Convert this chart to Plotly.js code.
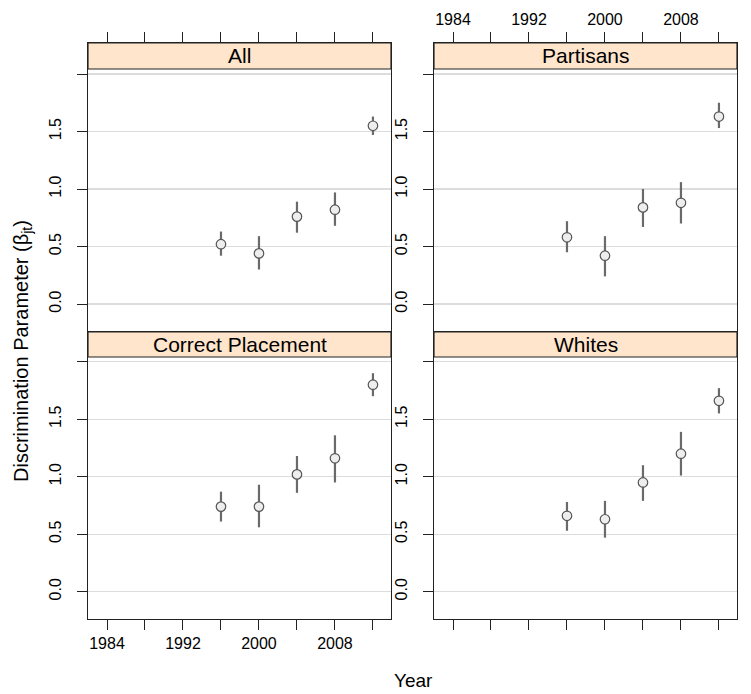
<!DOCTYPE html>
<html>
<head>
<meta charset="utf-8">
<script src="https://cdn.plot.ly/plotly-3.0.1.min.js"></script>
<style>
  html, body { margin: 0; padding: 0; background: #ffffff; }
  #chart { width: 751px; height: 694px; }
</style>
</head>
<body>
<div id="chart"></div>
<script>
// Election years and panel groups
const years = [1996, 2000, 2004, 2008, 2012];
const panelNames = ["All", "Partisans", "Correct Placement", "Whites"];

// Posterior estimates of the discrimination parameter with interval bounds
const allEst = [0.52, 0.44, 0.76, 0.82, 1.55];
const allLo  = [0.42, 0.30, 0.62, 0.68, 1.47];
const allHi  = [0.63, 0.59, 0.89, 0.97, 1.63];

const partisansEst = [0.58, 0.42, 0.84, 0.88, 1.63];
const partisansLo  = [0.45, 0.24, 0.67, 0.70, 1.53];
const partisansHi  = [0.72, 0.59, 1.00, 1.06, 1.75];

const correctEst = [0.74, 0.74, 1.02, 1.16, 1.80];
const correctLo  = [0.61, 0.56, 0.86, 0.95, 1.70];
const correctHi  = [0.87, 0.93, 1.18, 1.36, 1.90];

const whitesEst = [0.66, 0.63, 0.95, 1.20, 1.66];
const whitesLo  = [0.53, 0.47, 0.79, 1.01, 1.55];
const whitesHi  = [0.78, 0.79, 1.10, 1.39, 1.77];

// Axis ticks: labelled majors plus unlabelled in-between ticks
const xLabelVals = [1984, 1992, 2000, 2008];
const xLabelText = ["1984", "1992", "2000", "2008"];
const xMinorVals = [1988, 1996, 2004, 2012];
const yLabelVals = [0, 0.5, 1, 1.5];
const yLabelText = ["0.0", "0.5", "1.0", "1.5"];
const yMinorVals = [2];

const W = 751, H = 694;
const FONT = "Liberation Sans, Arial, Helvetica, sans-serif";
const px = v => v / W;
const py = v => 1 - v / H;

// Panel boxes in pixels: left, right, top (strip top), strip bottom, bottom
const panels = [
  { l: 88,  r: 391, t: 43,  s: 69,  b: 332, zero: 304.0, two: 74.0 },
  { l: 434, r: 737, t: 43,  s: 69,  b: 332, zero: 304.0, two: 74.0 },
  { l: 88,  r: 391, t: 332, s: 357, b: 619, zero: 591.7, two: 361.7 },
  { l: 434, r: 737, t: 332, s: 357, b: 619, zero: 591.7, two: 361.7 }
];
const series = [
  [allEst, allLo, allHi],
  [partisansEst, partisansLo, partisansHi],
  [correctEst, correctLo, correctHi],
  [whitesEst, whitesLo, whitesHi]
];

const xRange = [1982.0, 2013.9];
const AXIS_COLOR = "#222222";
const GRID_COLOR = "#dcdcdc";
const traces = [];
const layout = {
  width: W, height: H,
  margin: { l: 0, r: 0, t: 0, b: 0 },
  paper_bgcolor: "#ffffff",
  plot_bgcolor: "#ffffff",
  showlegend: false,
  font: { family: FONT, color: "#000000" },
  shapes: [],
  annotations: []
};

panels.forEach((p, i) => {
  const n = i === 0 ? "" : String(i + 1);
  const [est, lo, hi] = series[i];
  traces.push({
    type: "scatter",
    mode: "markers",
    x: years,
    y: est,
    xaxis: "x" + n,
    yaxis: "y" + n,
    error_y: {
      type: "data",
      symmetric: false,
      array: est.map((v, k) => hi[k] - v),
      arrayminus: est.map((v, k) => v - lo[k]),
      width: 0,
      thickness: 2.2,
      color: "#6a6a6a"
    },
    marker: {
      symbol: "circle",
      size: 9.5,
      color: "#eeeeee",
      line: { color: "#555555", width: 1.2 }
    },
    hoverinfo: "skip"
  });

  // vertical scale: 0 and 2 at fixed pixel rows
  const unit = (p.zero - p.two) / 2;
  const yLow = -(p.b - p.zero) / unit;
  const yHigh = 2 + (p.two - p.t) / unit;

  const top = i < 2;
  const showXLabels = (i === 1 || i === 2);

  layout["xaxis" + n] = {
    domain: [px(p.l), px(p.r)],
    anchor: "y" + n,
    side: top ? "top" : "bottom",
    range: xRange,
    tickmode: "array",
    tickvals: xLabelVals,
    ticktext: xLabelText,
    showticklabels: showXLabels,
    ticks: "outside",
    ticklen: 10,
    tickwidth: 1,
    tickcolor: AXIS_COLOR,
    tickfont: { family: FONT, size: 16, color: "#000000" },
    minor: {
      tickmode: "array",
      tickvals: xMinorVals,
      ticks: "outside",
      ticklen: 10,
      tickwidth: 1,
      tickcolor: AXIS_COLOR,
      showgrid: false
    },
    showline: true,
    mirror: true,
    linecolor: AXIS_COLOR,
    linewidth: 1.2,
    showgrid: false,
    zeroline: false,
    fixedrange: true
  };
  layout["yaxis" + n] = {
    domain: [py(p.b), py(p.t)],
    anchor: "x" + n,
    range: [yLow, yHigh],
    tickmode: "array",
    tickvals: yLabelVals,
    ticktext: yLabelText,
    tickangle: -90,
    ticks: "outside",
    ticklen: 10,
    tickwidth: 1,
    tickcolor: AXIS_COLOR,
    ticklabelstandoff: 9,
    tickfont: { family: FONT, size: 16, color: "#000000" },
    minor: {
      tickmode: "array",
      tickvals: yMinorVals,
      ticks: "outside",
      ticklen: 10,
      tickwidth: 1,
      tickcolor: AXIS_COLOR,
      showgrid: true,
      gridcolor: GRID_COLOR,
      gridwidth: 1.2
    },
    showline: true,
    mirror: true,
    linecolor: AXIS_COLOR,
    linewidth: 1.2,
    showgrid: true,
    gridcolor: GRID_COLOR,
    gridwidth: 1.2,
    zeroline: false,
    fixedrange: true
  };

  // strip header
  layout.shapes.push({
    type: "rect",
    xref: "paper", yref: "paper",
    x0: px(p.l), x1: px(p.r), y0: py(p.s), y1: py(p.t),
    fillcolor: "#ffe5cc",
    line: { color: AXIS_COLOR, width: 1.2 },
    layer: "above"
  });
  layout.annotations.push({
    xref: "paper", yref: "paper",
    x: px((p.l + p.r) / 2), y: py((p.t + p.s) / 2),
    xanchor: "center", yanchor: "middle",
    text: panelNames[i],
    showarrow: false,
    font: { family: FONT, size: 21, color: "#000000" }
  });
});

// Axis titles
layout.annotations.push({
  xref: "paper", yref: "paper",
  x: px(22), y: py(351),
  xanchor: "center", yanchor: "middle",
  text: "Discrimination Parameter (β<sub>jt</sub>)",
  textangle: -90,
  showarrow: false,
  font: { family: FONT, size: 20, color: "#000000" }
});
layout.annotations.push({
  xref: "paper", yref: "paper",
  x: px(413), y: py(680),
  xanchor: "center", yanchor: "middle",
  text: "Year",
  showarrow: false,
  font: { family: FONT, size: 19, color: "#000000" }
});

Plotly.newPlot("chart", traces, layout, { displayModeBar: false, staticPlot: true });
</script>
</body>
</html>
